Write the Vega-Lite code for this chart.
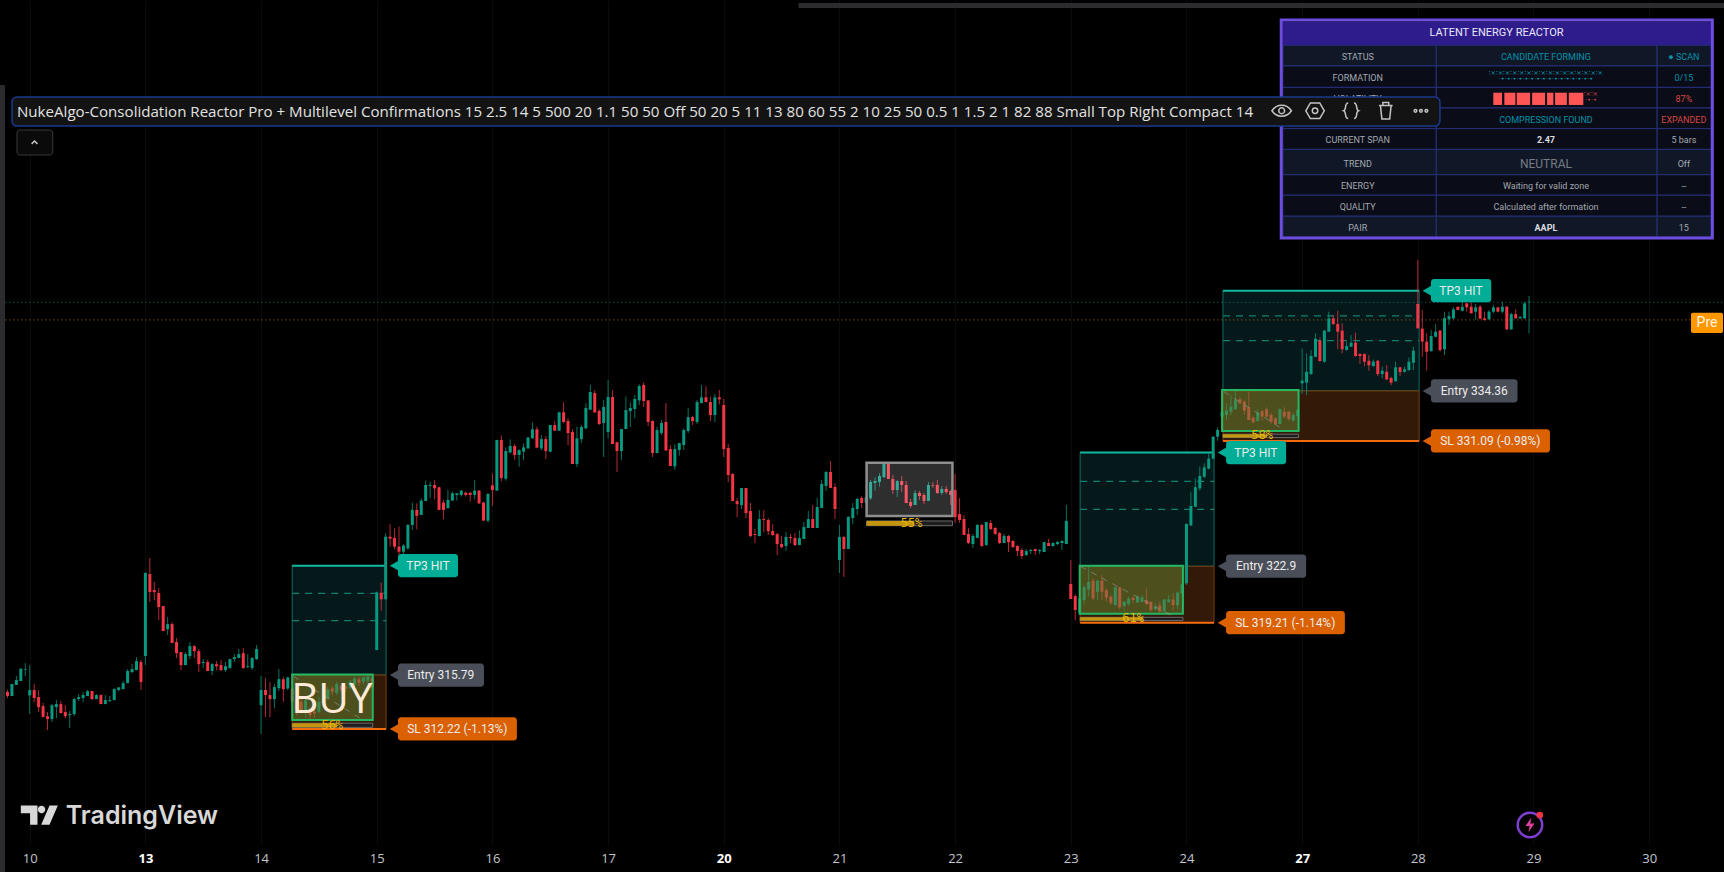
{"$schema":"https://vega.github.io/schema/vega-lite/v6.json","width":1724,"height":845,"autosize":{"type":"none"},"padding":{"left":0,"top":0,"right":0,"bottom":27},"background":"#000000","view":{"stroke":null},
"datasets":{
"candles":[
{"i":-5,"o":314.68,"h":314.81,"l":314.29,"c":314.42},{"i":-4,"o":314.42,"h":315.2,"l":314.42,"c":315.2},{"i":-3,"o":315.14,"h":315.72,"l":315.14,"c":315.46},{"i":-2,"o":315.4,"h":316.25,"l":315.4,"c":316.2},{"i":-1,"o":316.14,"h":316.57,"l":315.72,"c":316.18},
{"i":0,"o":314.46,"h":316.44,"l":313.24,"c":314.81},{"i":1,"o":314.81,"h":315.2,"l":314.02,"c":314.29},{"i":2,"o":314.35,"h":314.81,"l":313.37,"c":313.69},{"i":3,"o":313.76,"h":313.96,"l":312.99,"c":313.06},{"i":4,"o":313.1,"h":313.37,"l":312.19,"c":312.91},{"i":5,"o":312.91,"h":313.89,"l":312.71,"c":313.82},{"i":6,"o":313.69,"h":314.15,"l":312.97,"c":313.89},{"i":7,"o":313.89,"h":314.09,"l":313.28,"c":313.3},{"i":8,"o":313.37,"h":313.82,"l":312.97,"c":313.1},{"i":9,"o":313.17,"h":313.43,"l":312.32,"c":313.24},
{"i":10,"o":313.24,"h":314.29,"l":313.1,"c":314.22},{"i":11,"o":314.22,"h":314.54,"l":314.09,"c":314.35},{"i":12,"o":314.29,"h":314.68,"l":314.02,"c":314.48},{"i":13,"o":314.42,"h":314.81,"l":314.42,"c":314.74},{"i":14,"o":314.74,"h":314.74,"l":314.15,"c":314.22},{"i":15,"o":314.22,"h":314.54,"l":314.22,"c":314.48},{"i":16,"o":314.48,"h":314.54,"l":313.89,"c":313.89},{"i":17,"o":313.89,"h":314.48,"l":313.89,"c":314.15},{"i":18,"o":314.09,"h":314.42,"l":314.02,"c":314.15},{"i":19,"o":314.15,"h":314.93,"l":314.15,"c":314.87},
{"i":20,"o":314.81,"h":315,"l":314.74,"c":314.98},{"i":21,"o":314.87,"h":315.4,"l":314.87,"c":315.26},{"i":22,"o":315.26,"h":316.18,"l":315.26,"c":316.05},{"i":23,"o":315.98,"h":316.5,"l":315.92,"c":316.18},{"i":24,"o":316.11,"h":316.96,"l":316.11,"c":316.7},{"i":25,"o":316.64,"h":316.77,"l":314.81,"c":315.33},{"i":26,"o":317.03,"h":322.52,"l":316.44,"c":322.46},{"i":27,"o":322.39,"h":323.44,"l":320.56,"c":321.21},{"i":28,"o":321.34,"h":321.87,"l":320.69,"c":321.21},{"i":29,"o":321.15,"h":321.47,"l":319.38,"c":320.23},
{"i":30,"o":320.3,"h":320.3,"l":318.66,"c":318.66},{"i":31,"o":318.79,"h":319.58,"l":318.4,"c":319.12},{"i":32,"o":319.12,"h":319.25,"l":317.88,"c":317.88},{"i":33,"o":317.94,"h":318.2,"l":316.9,"c":317.22},{"i":34,"o":317.29,"h":317.29,"l":316.11,"c":316.44},{"i":35,"o":316.44,"h":317.29,"l":316.44,"c":317.16},{"i":36,"o":317.03,"h":317.94,"l":316.83,"c":317.68},{"i":37,"o":317.68,"h":317.75,"l":316.9,"c":317.35},{"i":38,"o":317.35,"h":317.49,"l":315.98,"c":316.5},{"i":39,"o":316.57,"h":316.83,"l":316.25,"c":316.64},
{"i":40,"o":316.64,"h":316.77,"l":316.05,"c":316.05},{"i":41,"o":316.05,"h":316.57,"l":315.78,"c":316.5},{"i":42,"o":316.5,"h":316.7,"l":316.11,"c":316.37},{"i":43,"o":316.44,"h":316.77,"l":316.05,"c":316.11},{"i":44,"o":316.11,"h":316.64,"l":315.98,"c":316.37},{"i":45,"o":316.25,"h":316.83,"l":316.2,"c":316.83},{"i":46,"o":316.83,"h":317.16,"l":316.64,"c":316.96},{"i":47,"o":316.9,"h":317.49,"l":316.9,"c":317.16},{"i":48,"o":317.22,"h":317.55,"l":316.18,"c":316.25},{"i":49,"o":316.31,"h":317.16,"l":316.25,"c":316.37},
{"i":50,"o":316.25,"h":316.96,"l":316.11,"c":316.9},{"i":51,"o":316.83,"h":317.75,"l":316.77,"c":317.49},{"i":52,"o":313.82,"h":315.72,"l":311.93,"c":314.81},{"i":53,"o":314.81,"h":315.59,"l":313.04,"c":314.48},{"i":54,"o":314.48,"h":315.33,"l":313.04,"c":314.22},{"i":55,"o":314.22,"h":315.2,"l":313.63,"c":315},{"i":56,"o":314.93,"h":316.18,"l":314.74,"c":315.52},{"i":57,"o":315.51,"h":315.68,"l":314.04,"c":314.87},{"i":58,"o":314.91,"h":315.68,"l":314.81,"c":315.63},{"i":59,"o":314.91,"h":315.46,"l":313.72,"c":314.04},
{"i":60,"o":314.15,"h":314.59,"l":313.17,"c":313.5},{"i":61,"o":314.04,"h":314.37,"l":313.28,"c":313.5},{"i":62,"o":313.39,"h":314.26,"l":313.02,"c":314.15},{"i":63,"o":313.5,"h":313.72,"l":312.89,"c":313.17},{"i":64,"o":313.39,"h":313.61,"l":313.02,"c":313.28},{"i":65,"o":313.39,"h":314.37,"l":313.28,"c":314.04},{"i":66,"o":314.04,"h":314.59,"l":313.89,"c":314.37},{"i":67,"o":314.26,"h":315.02,"l":314.15,"c":314.85},{"i":68,"o":314.91,"h":315.07,"l":314.48,"c":314.7},{"i":69,"o":314.63,"h":315.35,"l":314.48,"c":315.2},
{"i":70,"o":315.07,"h":315.24,"l":314.59,"c":314.81},{"i":71,"o":315.02,"h":315.2,"l":314.7,"c":314.91},{"i":72,"o":314.98,"h":315.46,"l":314.85,"c":315.35},{"i":73,"o":315.13,"h":315.68,"l":315.02,"c":315.57},{"i":74,"o":315.51,"h":315.68,"l":315.07,"c":315.29},{"i":75,"o":315.35,"h":315.68,"l":315.2,"c":315.63},{"i":76,"o":315.42,"h":315.77,"l":315.24,"c":315.68},{"i":77,"o":315.57,"h":315.68,"l":314.91,"c":314.98},{"i":78,"o":317.42,"h":321.24,"l":317.42,"c":321.19},{"i":79,"o":321.17,"h":321.83,"l":319.99,"c":320.74},
{"i":80,"o":320.74,"h":325.05,"l":320.74,"c":324.83},{"i":81,"o":324.83,"h":325.66,"l":324.18,"c":324.7},{"i":82,"o":324.75,"h":325.38,"l":324.01,"c":324.18},{"i":83,"o":324.18,"h":325.49,"l":323.64,"c":323.85},{"i":84,"o":323.85,"h":324.35,"l":323.7,"c":324.25},{"i":85,"o":324.07,"h":325.66,"l":323.96,"c":325.6},{"i":86,"o":325.6,"h":327.06,"l":325.27,"c":326.58},{"i":87,"o":326.58,"h":327.01,"l":325.31,"c":326.19},{"i":88,"o":326.25,"h":327.34,"l":326.25,"c":327.19},{"i":89,"o":327.17,"h":328.5,"l":327.17,"c":328.21},
{"i":90,"o":328.15,"h":328.43,"l":327.34,"c":328.21},{"i":91,"o":328.21,"h":328.54,"l":327.28,"c":327.99},{"i":92,"o":328.06,"h":328.1,"l":326.58,"c":326.58},{"i":93,"o":327.06,"h":327.23,"l":325.97,"c":326.58},{"i":94,"o":326.69,"h":327.89,"l":326.69,"c":327.23},{"i":95,"o":327.19,"h":327.78,"l":327.19,"c":327.67},{"i":96,"o":327.56,"h":327.67,"l":327.19,"c":327.67},{"i":97,"o":327.56,"h":327.89,"l":327.45,"c":327.84},{"i":98,"o":327.71,"h":327.78,"l":327.45,"c":327.56},{"i":99,"o":327.71,"h":327.71,"l":327.12,"c":327.56},
{"i":100,"o":327.56,"h":328.54,"l":327.28,"c":327.84},{"i":101,"o":327.84,"h":327.89,"l":326.97,"c":327.01},{"i":102,"o":327.06,"h":327.12,"l":325.88,"c":325.88},{"i":103,"o":325.88,"h":327.67,"l":325.75,"c":327.62},{"i":104,"o":328.19,"h":328.97,"l":326.86,"c":327.88},{"i":105,"o":327.84,"h":331.15,"l":327.84,"c":331.15},{"i":106,"o":331.15,"h":331.45,"l":328.44,"c":328.66},{"i":107,"o":328.62,"h":330.67,"l":328.49,"c":330.43},{"i":108,"o":330.34,"h":331.19,"l":330.28,"c":330.76},{"i":109,"o":330.76,"h":330.89,"l":329.86,"c":330.17},
{"i":110,"o":330.17,"h":330.54,"l":329.4,"c":330.49},{"i":111,"o":330.39,"h":330.93,"l":329.84,"c":330.67},{"i":112,"o":330.6,"h":331.32,"l":330.6,"c":331.32},{"i":113,"o":331.26,"h":332.3,"l":331.26,"c":331.85},{"i":114,"o":331.85,"h":332.02,"l":330.65,"c":330.65},{"i":115,"o":330.6,"h":331.48,"l":330.47,"c":331.21},{"i":116,"o":331.21,"h":331.41,"l":329.91,"c":330.43},{"i":117,"o":330.39,"h":332.13,"l":330.34,"c":332.13},{"i":118,"o":332.13,"h":332.39,"l":331.74,"c":331.76},{"i":119,"o":331.76,"h":333,"l":331.74,"c":332.96},
{"i":120,"o":332.96,"h":333.61,"l":332.24,"c":332.33},{"i":121,"o":332.39,"h":332.57,"l":330.82,"c":331.61},{"i":122,"o":331.67,"h":331.85,"l":329.58,"c":329.58},{"i":123,"o":329.58,"h":332.02,"l":329.38,"c":331.26},{"i":124,"o":331.21,"h":332.13,"l":330.95,"c":332},{"i":125,"o":331.91,"h":333.55,"l":331.87,"c":333.24},{"i":126,"o":333.13,"h":334.75,"l":333.11,"c":334.29},{"i":127,"o":334.22,"h":334.4,"l":332.92,"c":332.96},{"i":128,"o":333.05,"h":333.15,"l":332.13,"c":332.2},{"i":129,"o":332.26,"h":333.77,"l":330.04,"c":333.31},
{"i":130,"o":331.67,"h":335.07,"l":331.26,"c":333.96},{"i":131,"o":333.96,"h":334.42,"l":330.89,"c":330.89},{"i":132,"o":331,"h":331.04,"l":329.06,"c":330.43},{"i":133,"o":330.43,"h":331.87,"l":329.84,"c":331.87},{"i":134,"o":331.87,"h":334,"l":331.87,"c":333.11},{"i":135,"o":333.05,"h":333.61,"l":332,"c":333.24},{"i":136,"o":333.18,"h":334.09,"l":332.57,"c":333.83},{"i":137,"o":333.74,"h":334.79,"l":333.44,"c":334.68},{"i":138,"o":334.75,"h":334.92,"l":333.31,"c":333.7},{"i":139,"o":333.74,"h":333.74,"l":332.07,"c":332.33},
{"i":140,"o":332.39,"h":332.44,"l":330.04,"c":330.3},{"i":141,"o":330.3,"h":332.02,"l":330.3,"c":331.8},{"i":142,"o":331.61,"h":332.46,"l":331.48,"c":332.26},{"i":143,"o":332.33,"h":333.57,"l":330.43,"c":330.47},{"i":144,"o":330.56,"h":330.82,"l":329.45,"c":329.45},{"i":145,"o":329.43,"h":330.87,"l":329.19,"c":330.56},{"i":146,"o":330.5,"h":330.95,"l":330.13,"c":330.95},{"i":147,"o":330.82,"h":331.91,"l":330.5,"c":331.8},{"i":148,"o":331.74,"h":333.24,"l":331.61,"c":332.65},{"i":149,"o":332.65,"h":332.74,"l":332.13,"c":332.39},
{"i":150,"o":332.33,"h":333.77,"l":332.2,"c":333.63},{"i":151,"o":333.57,"h":334.75,"l":333.55,"c":333.94},{"i":152,"o":333.94,"h":334.66,"l":333.61,"c":333.63},{"i":153,"o":333.63,"h":334,"l":332.39,"c":332.78},{"i":154,"o":332.78,"h":334.16,"l":332.33,"c":333.94},{"i":155,"o":333.94,"h":334.42,"l":333.48,"c":333.81},{"i":156,"o":333.44,"h":333.83,"l":330.04,"c":330.56},{"i":157,"o":330.63,"h":330.89,"l":328.4,"c":328.86},{"i":158,"o":328.93,"h":328.99,"l":327.16,"c":327.16},{"i":159,"o":327.16,"h":327.36,"l":326.11,"c":326.96},
{"i":160,"o":326.9,"h":328.01,"l":326.64,"c":328.01},{"i":161,"o":328.01,"h":328.01,"l":326.05,"c":326.37},{"i":162,"o":326.51,"h":327.03,"l":324.81,"c":324.87},{"i":163,"o":325,"h":325.33,"l":324.41,"c":324.94},{"i":164,"o":324.87,"h":326.57,"l":324.87,"c":325.98},{"i":165,"o":325.98,"h":326.57,"l":325.13,"c":325.92},{"i":166,"o":325.92,"h":326.05,"l":324.94,"c":325.2},{"i":167,"o":325.2,"h":325.66,"l":324.87,"c":324.94},{"i":168,"o":325,"h":325.07,"l":323.63,"c":324.35},{"i":169,"o":324.35,"h":324.87,"l":324.07,"c":324.15},
{"i":170,"o":324.22,"h":325.13,"l":323.89,"c":324.81},{"i":171,"o":324.81,"h":325,"l":324.43,"c":324.74},{"i":172,"o":324.74,"h":325.07,"l":324.22,"c":324.28},{"i":173,"o":324.28,"h":325.26,"l":324.28,"c":324.74},{"i":174,"o":324.68,"h":325.79,"l":324.68,"c":325.46},{"i":175,"o":325.4,"h":326.51,"l":325.4,"c":325.98},{"i":176,"o":325.98,"h":326.9,"l":325.4,"c":325.4},{"i":177,"o":325.4,"h":327.36,"l":325.4,"c":326.77},{"i":178,"o":326.71,"h":328.54,"l":326.71,"c":328.28},{"i":179,"o":328.15,"h":329.13,"l":327.82,"c":329.06},
{"i":180,"o":329.06,"h":329.78,"l":328.02,"c":328.02},{"i":181,"o":328.08,"h":328.32,"l":325.99,"c":326.64},{"i":182,"o":323.31,"h":325.6,"l":322.46,"c":324.81},{"i":183,"o":324.81,"h":324.88,"l":322.2,"c":324.03},{"i":184,"o":324.03,"h":326.18,"l":324.03,"c":326.12},{"i":185,"o":326.05,"h":327.03,"l":325.66,"c":326.71},{"i":186,"o":326.64,"h":327.36,"l":326.25,"c":327.3},{"i":187,"o":327.36,"h":327.49,"l":326.71,"c":327.03},{"i":188,"o":327.06,"h":327.67,"l":327.06,"c":327.4},{"i":189,"o":327.34,"h":328.54,"l":327.23,"c":328.41},
{"i":190,"o":328.34,"h":328.71,"l":327.84,"c":328.47},{"i":191,"o":328.41,"h":328.97,"l":328.1,"c":328.8},{"i":192,"o":328.71,"h":329.58,"l":328.71,"c":329.58},{"i":193,"o":329.58,"h":329.58,"l":328.6,"c":328.6},{"i":194,"o":328.6,"h":328.87,"l":327.62,"c":327.88},{"i":195,"o":327.88,"h":328.54,"l":327.43,"c":328.47},{"i":196,"o":328.47,"h":328.8,"l":327.75,"c":328.21},{"i":197,"o":328.21,"h":328.47,"l":327.03,"c":327.03},{"i":198,"o":327.1,"h":327.3,"l":326.71,"c":326.84},{"i":199,"o":326.9,"h":327.88,"l":326.9,"c":327.69},
{"i":200,"o":327.69,"h":327.82,"l":327.23,"c":327.49},{"i":201,"o":327.56,"h":327.69,"l":326.97,"c":327.17},{"i":202,"o":327.17,"h":328.41,"l":327.17,"c":328.21},{"i":203,"o":328.21,"h":328.41,"l":328.02,"c":328.17},{"i":204,"o":328.21,"h":328.54,"l":327.62,"c":327.69},{"i":205,"o":327.69,"h":328.15,"l":327.56,"c":327.95},{"i":206,"o":327.95,"h":328.15,"l":327.62,"c":327.75},{"i":207,"o":327.82,"h":327.88,"l":326.9,"c":327.56},{"i":208,"o":327.88,"h":328.93,"l":325.73,"c":326.12},{"i":209,"o":326.31,"h":327.36,"l":325.73,"c":325.92},
{"i":210,"o":325.99,"h":326.25,"l":324.94,"c":324.94},{"i":211,"o":325.01,"h":325.4,"l":324.35,"c":324.42},{"i":212,"o":324.35,"h":325.01,"l":324.09,"c":324.88},{"i":213,"o":324.75,"h":325.66,"l":324.75,"c":325.6},{"i":214,"o":325.6,"h":325.66,"l":324.16,"c":324.22},{"i":215,"o":324.29,"h":325.79,"l":324.22,"c":325.79},{"i":216,"o":325.73,"h":325.92,"l":325.27,"c":325.33},{"i":217,"o":325.4,"h":325.47,"l":324.94,"c":325.01},{"i":218,"o":325.07,"h":325.14,"l":324.35,"c":324.42},{"i":219,"o":324.42,"h":325.01,"l":324.42,"c":324.88},
{"i":220,"o":324.88,"h":324.94,"l":323.83,"c":324.48},{"i":221,"o":324.55,"h":324.61,"l":324.09,"c":324.16},{"i":222,"o":324.22,"h":324.29,"l":323.57,"c":323.89},{"i":223,"o":323.96,"h":324.09,"l":323.37,"c":323.57},{"i":224,"o":323.63,"h":324.03,"l":323.57,"c":323.89},{"i":225,"o":323.89,"h":324.03,"l":323.7,"c":323.96},{"i":226,"o":324.03,"h":324.03,"l":323.63,"c":323.89},{"i":227,"o":323.89,"h":324.03,"l":323.7,"c":323.96},{"i":228,"o":323.83,"h":324.48,"l":323.83,"c":324.48},{"i":229,"o":324.42,"h":324.68,"l":324.22,"c":324.22},
{"i":230,"o":324.22,"h":324.48,"l":324.16,"c":324.42},{"i":231,"o":324.35,"h":324.55,"l":324.29,"c":324.48},{"i":232,"o":324.42,"h":324.61,"l":323.96,"c":324.55},{"i":233,"o":324.35,"h":326.9,"l":324.35,"c":325.86},{"i":234,"o":321.74,"h":323.31,"l":320.76,"c":320.76},{"i":235,"o":320.95,"h":321.08,"l":319.38,"c":320.04},{"i":236,"o":319.86,"h":321.34,"l":319.71,"c":320.8},{"i":237,"o":320.69,"h":321.67,"l":320.47,"c":321.52},{"i":238,"o":321.39,"h":322.87,"l":320.91,"c":321.87},{"i":239,"o":321.95,"h":322.1,"l":320.69,"c":320.8},
{"i":240,"o":321.23,"h":322,"l":320.69,"c":321.95},{"i":241,"o":321.95,"h":322.32,"l":320.69,"c":321.23},{"i":242,"o":321.34,"h":321.45,"l":320.58,"c":320.84},{"i":243,"o":320.91,"h":321.01,"l":320.36,"c":320.51},{"i":244,"o":320.36,"h":321.56,"l":320.3,"c":321.52},{"i":245,"o":321.52,"h":321.56,"l":320.08,"c":320.21},{"i":246,"o":320.3,"h":320.58,"l":319.99,"c":320.58},{"i":247,"o":320.43,"h":320.91,"l":320.3,"c":320.78},{"i":248,"o":320.84,"h":320.91,"l":320.47,"c":320.69},{"i":249,"o":320.54,"h":321.01,"l":320.47,"c":320.91},
{"i":250,"o":320.58,"h":321.01,"l":320.51,"c":320.86},{"i":251,"o":320.69,"h":321.45,"l":320.36,"c":320.43},{"i":252,"o":320.58,"h":320.58,"l":319.93,"c":320.03},{"i":253,"o":320.08,"h":320.47,"l":320.03,"c":320.25},{"i":254,"o":320.34,"h":320.58,"l":319.82,"c":319.93},{"i":255,"o":319.95,"h":320.73,"l":319.93,"c":320.73},{"i":256,"o":320.56,"h":321.01,"l":320.51,"c":320.73},{"i":257,"o":320.73,"h":321.12,"l":320.03,"c":320.36},{"i":258,"o":320.34,"h":321.23,"l":320.08,"c":321.17},{"i":259,"o":321.12,"h":321.78,"l":321.08,"c":321.71},
{"i":260,"o":321.78,"h":325.7,"l":321.67,"c":325.66},{"i":261,"o":325.57,"h":327.77,"l":325.53,"c":326.84},{"i":262,"o":326.79,"h":328.64,"l":326.75,"c":328.06},{"i":263,"o":327.99,"h":329.41,"l":327.84,"c":328.8},{"i":264,"o":328.75,"h":329.63,"l":328.64,"c":329.36},{"i":265,"o":329.28,"h":330.28,"l":329.23,"c":329.93},{"i":266,"o":329.93,"h":331.37,"l":329.89,"c":331.37},{"i":267,"o":331.37,"h":331.98,"l":331.11,"c":331.81},{"i":268,"o":332.68,"h":333.16,"l":332.57,"c":333},{"i":269,"o":332.79,"h":333.55,"l":332.46,"c":333.07},
{"i":270,"o":333,"h":334.1,"l":332.79,"c":333.33},{"i":271,"o":333.16,"h":334.38,"l":333.11,"c":333.77},{"i":272,"o":333.81,"h":333.94,"l":333.51,"c":333.55},{"i":273,"o":333.66,"h":333.77,"l":332.79,"c":333.07},{"i":274,"o":333.29,"h":334.31,"l":332.46,"c":332.46},{"i":275,"o":332.61,"h":332.68,"l":332.24,"c":332.31},{"i":276,"o":332.39,"h":333.16,"l":332.39,"c":332.94},{"i":277,"o":333.03,"h":333.11,"l":332.42,"c":332.68},{"i":278,"o":333.16,"h":333.29,"l":332.63,"c":332.68},{"i":279,"o":332.79,"h":332.9,"l":332.2,"c":332.35},
{"i":280,"o":332.57,"h":332.63,"l":332.13,"c":332.2},{"i":281,"o":332.2,"h":333.22,"l":332.2,"c":333.16},{"i":282,"o":333,"h":333.29,"l":332.57,"c":332.68},{"i":283,"o":333,"h":333.07,"l":332.42,"c":332.53},{"i":284,"o":332.42,"h":332.9,"l":332.35,"c":332.79},{"i":285,"o":332.72,"h":333.16,"l":332.63,"c":333.11},{"i":286,"o":334.85,"h":337.14,"l":334.16,"c":335.03},{"i":287,"o":334.9,"h":336.81,"l":334.09,"c":335.61},{"i":288,"o":335.46,"h":337.03,"l":335.4,"c":336.64},{"i":289,"o":336.59,"h":338.12,"l":336.59,"c":337.77},
{"i":290,"o":337.64,"h":337.86,"l":336.27,"c":336.31},{"i":291,"o":336.27,"h":338.34,"l":336.2,"c":338.3},{"i":292,"o":338.23,"h":339.54,"l":338.23,"c":339.1},{"i":293,"o":339.1,"h":339.32,"l":338.67,"c":338.73},{"i":294,"o":338.73,"h":339.6,"l":337.1,"c":338.23},{"i":295,"o":338.3,"h":338.78,"l":336.81,"c":337.08},{"i":296,"o":337.03,"h":337.58,"l":336.99,"c":337.29},{"i":297,"o":337.25,"h":338.01,"l":337.25,"c":337.51},{"i":298,"o":337.51,"h":338.17,"l":336.59,"c":336.64},{"i":299,"o":336.77,"h":336.81,"l":336.12,"c":336.64},
{"i":300,"o":336.77,"h":336.81,"l":335.98,"c":336.27},{"i":301,"o":336.33,"h":336.7,"l":335.68,"c":336.03},{"i":302,"o":335.98,"h":336.42,"l":335.94,"c":336.27},{"i":303,"o":336.33,"h":336.38,"l":335.33,"c":335.46},{"i":304,"o":335.46,"h":335.94,"l":335.18,"c":335.68},{"i":305,"o":335.61,"h":336.05,"l":335.07,"c":335.11},{"i":306,"o":335.2,"h":335.29,"l":334.74,"c":334.9},{"i":307,"o":335,"h":336.27,"l":334.96,"c":335.9},{"i":308,"o":335.9,"h":335.94,"l":335.33,"c":335.59},{"i":309,"o":335.61,"h":335.94,"l":335.55,"c":335.77},
{"i":310,"o":335.72,"h":336.55,"l":335.68,"c":336.27},{"i":311,"o":336.2,"h":337.25,"l":335.72,"c":336.99},{"i":312,"o":340.04,"h":342.92,"l":338.43,"c":338.45},{"i":313,"o":338.43,"h":339.65,"l":336.59,"c":337.58},{"i":314,"o":337.58,"h":338.12,"l":335.68,"c":336.92},{"i":315,"o":336.96,"h":338.34,"l":336.92,"c":337.95},{"i":316,"o":337.9,"h":338.73,"l":337.86,"c":338.23},{"i":317,"o":338.3,"h":338.34,"l":336.92,"c":337.03},{"i":318,"o":337.08,"h":339.54,"l":336.7,"c":339.12},{"i":319,"o":339.04,"h":339.54,"l":338.67,"c":339.25},
{"i":320,"o":339.1,"h":339.86,"l":339.04,"c":339.69},{"i":321,"o":339.86,"h":339.86,"l":339.65,"c":339.65},{"i":322,"o":339.6,"h":340.19,"l":339.54,"c":339.86},{"i":323,"o":340.08,"h":340.13,"l":339.54,"c":339.82},{"i":324,"o":339.86,"h":340.19,"l":339.43,"c":339.43},{"i":325,"o":339.54,"h":340.04,"l":339,"c":339.82},{"i":326,"o":339.86,"h":339.97,"l":339.04,"c":339.08},{"i":327,"o":339.1,"h":339.54,"l":338.95,"c":339},{"i":328,"o":339.04,"h":339.65,"l":339,"c":339.54},{"i":329,"o":339.54,"h":339.97,"l":339.43,"c":339.82},
{"i":330,"o":339.82,"h":339.86,"l":339.5,"c":339.54},{"i":331,"o":339.54,"h":340.19,"l":339.43,"c":339.86},{"i":332,"o":339.86,"h":339.91,"l":338.34,"c":338.38},{"i":333,"o":338.38,"h":339.47,"l":338.34,"c":339.38},{"i":334,"o":339.38,"h":339.69,"l":339.1,"c":339.1},{"i":335,"o":339.1,"h":339.21,"l":339.1,"c":339.21},{"i":336,"o":339.1,"h":340.19,"l":339.1,"c":340.08},{"i":337,"o":340.15,"h":340.56,"l":338.12,"c":340.19}
],
"rects":[
{"k":"ui","i":-6.68,"i2":-5.56,"p":354.35,"p2":302.91},{"k":"ui","i":172.8,"i2":381.08,"p":359.71,"p2":359.39},
{"k":"tp","i":59,"i2":80.1,"p":322.94,"p2":315.79},{"k":"tp","i":236.1,"i2":266.2,"p":330.33,"p2":322.9},{"k":"tp","i":268.2,"i2":312.3,"p":340.91,"p2":334.36},
{"k":"sl","i":59,"i2":80.1,"p":315.79,"p2":312.27},{"k":"sl","i":236.1,"i2":266.2,"p":322.9,"p2":319.21},{"k":"sl","i":268.2,"i2":312.3,"p":334.36,"p2":331.09},
{"k":"con","i":59,"i2":77.1,"p":315.82,"p2":312.85},{"k":"con","i":236,"i2":259.2,"p":322.94,"p2":319.8},{"k":"con","i":268,"i2":285.2,"p":334.42,"p2":331.74},
{"k":"gray","i":188.1,"i2":207.4,"p":329.67,"p2":326.19},
{"k":"track","i":59,"i2":77.1,"p":312.64,"p2":312.37},{"k":"track","i":188.1,"i2":207.4,"p":325.86,"p2":325.55},{"k":"track","i":236.1,"i2":259.2,"p":319.56,"p2":319.35},{"k":"track","i":268.2,"i2":285.2,"p":331.53,"p2":331.31},
{"k":"prog","i":59,"i2":69.1,"p":312.64,"p2":312.37},{"k":"prog","i":188.1,"i2":198.7,"p":325.86,"p2":325.55},{"k":"prog","i":236.1,"i2":250.2,"p":319.56,"p2":319.35},{"k":"prog","i":268.2,"i2":278.1,"p":331.53,"p2":331.31},
{"k":"ptp","i":82.77,"i2":96.27,"p":323.7,"p2":322.18},{"k":"ptp","i":268.9,"i2":282.4,"p":331.09,"p2":329.57},{"k":"ptp","i":314.95,"i2":328.5,"p":341.67,"p2":340.15},
{"k":"pen","i":82.77,"i2":102.1,"p":316.55,"p2":315.03},{"k":"pen","i":268.9,"i2":286.9,"p":323.66,"p2":322.14},{"k":"pen","i":314.95,"i2":334.4,"p":335.12,"p2":333.6},
{"k":"psl","i":82.77,"i2":109.5,"p":313.03,"p2":311.51},{"k":"psl","i":268.9,"i2":295.6,"p":319.97,"p2":318.45},{"k":"psl","i":314.95,"i2":341.7,"p":331.85,"p2":330.33},
{"k":"pre","i":373.4,"i2":380.6,"p":339.47,"p2":338.15},
{"k":"ttl","i":281.67,"i2":377.94,"p":358.47,"p2":356.95},
{"k":"cl","i":281.67,"i2":316.15,"p":356.95,"p2":355.6},{"k":"cl","i":316.15,"i2":365.79,"p":356.95,"p2":355.6},{"k":"cl","i":365.79,"i2":377.94,"p":356.95,"p2":355.6},
{"k":"cd","i":281.67,"i2":316.15,"p":355.6,"p2":354.2},{"k":"cd","i":316.15,"i2":365.79,"p":355.6,"p2":354.2},{"k":"cd","i":365.79,"i2":377.94,"p":355.6,"p2":354.2},
{"k":"cd","i":281.67,"i2":316.15,"p":354.2,"p2":352.85},{"k":"cd","i":316.15,"i2":365.79,"p":354.2,"p2":352.85},{"k":"cd","i":365.79,"i2":377.94,"p":354.2,"p2":352.85},
{"k":"cd","i":281.67,"i2":316.15,"p":352.85,"p2":351.5},{"k":"cd","i":316.15,"i2":365.79,"p":352.85,"p2":351.5},{"k":"cd","i":365.79,"i2":377.94,"p":352.85,"p2":351.5},
{"k":"cd","i":281.67,"i2":316.15,"p":351.5,"p2":350.15},{"k":"cd","i":316.15,"i2":365.79,"p":351.5,"p2":350.15},{"k":"cd","i":365.79,"i2":377.94,"p":351.5,"p2":350.15},
{"k":"cl","i":281.67,"i2":316.15,"p":350.15,"p2":348.49},{"k":"cl","i":316.15,"i2":365.79,"p":350.15,"p2":348.49},{"k":"cl","i":365.79,"i2":377.94,"p":350.15,"p2":348.49},
{"k":"cd","i":281.67,"i2":316.15,"p":348.49,"p2":347.15},{"k":"cd","i":316.15,"i2":365.79,"p":348.49,"p2":347.15},{"k":"cd","i":365.79,"i2":377.94,"p":348.49,"p2":347.15},
{"k":"cd","i":281.67,"i2":316.15,"p":347.15,"p2":345.79},{"k":"cd","i":316.15,"i2":365.79,"p":347.15,"p2":345.79},{"k":"cd","i":365.79,"i2":377.94,"p":347.15,"p2":345.79},
{"k":"cl","i":281.67,"i2":316.15,"p":345.79,"p2":344.4},{"k":"cl","i":316.15,"i2":365.79,"p":345.79,"p2":344.4},{"k":"cl","i":365.79,"i2":377.94,"p":345.79,"p2":344.4},
{"k":"outer","i":281.3,"i2":378.2,"p":358.6,"p2":344.36},
{"k":"vol","i":328.97,"i2":330.93,"p":353.85,"p2":353.05},{"k":"vol","i":331.45,"i2":333.93,"p":353.85,"p2":353.05},{"k":"vol","i":334.24,"i2":337.24,"p":353.85,"p2":353.05},{"k":"vol","i":337.69,"i2":340.6,"p":353.85,"p2":353.05},{"k":"vol","i":341.05,"i2":342.47,"p":353.85,"p2":353.05},{"k":"vol","i":342.85,"i2":345.5,"p":353.85,"p2":353.05},{"k":"vol","i":345.93,"i2":349.2,"p":353.85,"p2":353.05},
{"k":"tool","i":-3.98,"i2":316.97,"p":353.57,"p2":351.67},
{"k":"btn","i":-2.86,"i2":5.17,"p":351.41,"p2":349.78}
],
"lines":[
{"k":"hteal","i":-5.5,"i2":381.08,"p":340.15},{"k":"horange","i":-5.5,"i2":381.08,"p":339},
{"k":"top","i":59,"i2":80.1,"p":322.94},{"k":"top","i":236.1,"i2":266.2,"p":330.33},{"k":"top","i":268.2,"i2":312.3,"p":340.91},
{"k":"bot","i":59,"i2":80.1,"p":312.27},{"k":"bot","i":236.1,"i2":266.2,"p":319.21},{"k":"bot","i":268.2,"i2":312.3,"p":331.09},
{"k":"dash","i":59,"i2":80.1,"p":321.13},{"k":"dash","i":59,"i2":80.1,"p":319.35},{"k":"dash","i":236.1,"i2":266.2,"p":328.45},{"k":"dash","i":236.1,"i2":266.2,"p":326.62},{"k":"dash","i":268.2,"i2":312.3,"p":339.26},{"k":"dash","i":268.2,"i2":312.3,"p":337.64}
],
"diag":[
{"i":59.3,"i2":74.3,"p":315.69,"p2":312.96},{"i":236.2,"i2":256.4,"p":322.88,"p2":319.72},{"i":268.4,"i2":281.9,"p":334.31,"p2":331.81}
],
"tips":[
{"k":"ptp","i":82,"p":322.94},{"k":"ptp","i":268.1,"p":330.33},{"k":"ptp","i":314.15,"p":340.91},
{"k":"pen","i":82,"p":315.79},{"k":"pen","i":268.1,"p":322.9},{"k":"pen","i":314.15,"p":334.36},
{"k":"psl","i":82,"p":312.27},{"k":"psl","i":268.1,"p":319.21},{"k":"psl","i":314.15,"p":331.09}
],
"texts":[
{"k":"lab","i":89.5,"p":322.94,"t":"TP3 HIT"},{"k":"lab","i":92.4,"p":315.79,"t":"Entry 315.79"},{"k":"lab","i":96.1,"p":312.27,"t":"SL 312.22 (-1.13%)"},
{"k":"lab","i":275.6,"p":330.33,"t":"TP3 HIT"},{"k":"lab","i":277.9,"p":322.9,"t":"Entry 322.9"},{"k":"lab","i":282.2,"p":319.21,"t":"SL 319.21 (-1.14%)"},
{"k":"lab","i":321.7,"p":340.91,"t":"TP3 HIT"},{"k":"lab","i":324.7,"p":334.36,"t":"Entry 334.36"},{"k":"lab","i":328.3,"p":331.09,"t":"SL 331.09 (-0.98%)"},
{"k":"pct","i":68,"p":312.55,"t":"56%"},{"k":"pct","i":198.2,"p":325.75,"t":"55%"},{"k":"pct","i":248,"p":319.5,"t":"61%"},{"k":"pct","i":277,"p":331.48,"t":"58%"},
{"k":"buy","i":67.9,"p":314.13,"t":"BUY"},
{"k":"pre","i":377,"p":338.8,"t":"Pre"},
{"k":"ttl","i":329.7,"p":357.73,"t":"LATENT ENERGY REACTOR"},
{"k":"tg","i":298.5,"p":356.27,"t":"STATUS"},{"k":"tg","i":298.5,"p":354.9,"t":"FORMATION"},{"k":"tg","i":298.5,"p":353.53,"t":"VOLATILITY"},{"k":"tg","i":298.5,"p":350.83,"t":"CURRENT SPAN"},{"k":"tg","i":298.5,"p":349.32,"t":"TREND"},{"k":"tg","i":298.5,"p":347.82,"t":"ENERGY"},{"k":"tg","i":298.5,"p":346.47,"t":"QUALITY"},{"k":"tg","i":298.5,"p":345.1,"t":"PAIR"},
{"k":"tg","i":371.8,"p":350.83,"t":"5 bars"},{"k":"tg","i":371.8,"p":349.32,"t":"Off"},{"k":"tg","i":371.8,"p":347.82,"t":"--"},{"k":"tg","i":371.8,"p":346.47,"t":"--"},{"k":"tg","i":371.8,"p":345.1,"t":"15"},
{"k":"tg","i":340.8,"p":347.82,"t":"Waiting for valid zone"},{"k":"tg","i":340.8,"p":346.47,"t":"Calculated after formation"},
{"k":"tc","i":340.8,"p":356.27,"t":"CANDIDATE FORMING"},{"k":"tc","i":371.8,"p":356.27,"t":"● SCAN"},{"k":"tc","i":371.8,"p":354.9,"t":"0/15"},{"k":"tc","i":340.8,"p":352.18,"t":"COMPRESSION FOUND"},
{"k":"tr","i":371.8,"p":353.53,"t":"87%"},{"k":"tr","i":371.8,"p":352.18,"t":"EXPANDED"},
{"k":"tw","i":340.8,"p":350.83,"t":"2.47"},{"k":"tw","i":340.8,"p":345.1,"t":"AAPL"},
{"k":"tn","i":340.8,"p":349.32,"t":"NEUTRAL"},
{"k":"pc","i":340.8,"p":355.12,"t":"∶×∶×∶×∶×∶×∶×∶×∶×∶×∶×∶×∶×∶×∶×∶×∶×"},{"k":"pc","i":340.8,"p":354.72,"t":"·•·•·•·•·•·•·•·•·•·•·•·•·•·•·•·•"},
{"k":"pr","i":350.9,"p":353.77,"t":"∶×∶×"},{"k":"pr","i":350.9,"p":353.38,"t":"·•·•"},
{"k":"tool","i":-2.86,"p":352.59,"t":"NukeAlgo-Consolidation Reactor Pro + Multilevel Confirmations 15 2.5 14 5 500 20 1.1 50 50 Off 50 20 5 11 13 80 60 55 2 10 25 50 0.5 1 1.5 2 1 82 88 Small Top Right Compact 14"},
{"k":"tv","i":8.1,"p":306.58,"t":"TradingView"}
],
"icons":[
{"s":"eye","i":281.4,"p":352.67},{"s":"hex","i":288.9,"p":352.67},{"s":"brace","i":297,"p":352.67},{"s":"trash","i":304.8,"p":352.67},{"s":"dots","i":312.7,"p":352.67},{"s":"chev","i":1.08,"p":350.6}
],
"logo":[{"i":2.16,"p":306.64}],
"badge":[{"i":337.2,"p":305.99}],
"dot":[{"i":339.4,"p":306.64}]
},
"encoding":{
"x":{"field":"i","type":"quantitative","title":null,"scale":{"domain":[-6.68,380.82],"nice":false,"zero":false},"axis":{"values":[0,26,52,78,104,130,156,182,208,234,260,286,312,338,364],"labelExpr":"['10','13','14','15','16','17','20','21','22','23','24','27','28','29','30'][round(datum.value/26)]","domain":false,"ticks":false,"grid":true,"gridColor":"#0b0b0b","labelFont":"Open Sans","labelFontSize":13,"labelPadding":7,"labelFlush":false,"labelOverlap":false,"labelColor":{"condition":{"test":"datum.value==26||datum.value==156||datum.value==286","value":"#ffffff"},"value":"#c4c6cc"},"labelFontWeight":{"condition":{"test":"datum.value==26||datum.value==156||datum.value==286","value":700},"value":400},"title":null}},
"y":{"field":"p","type":"quantitative","title":null,"scale":{"domain":[304.68,359.91],"nice":false,"zero":false},"axis":null}
},
"layer":[
{"data":{"name":"rects"},"transform":[{"filter":"datum.k=='ui'"}],"mark":{"type":"rect","fill":"#2c2c2e"},"encoding":{"x2":{"field":"i2"},"y2":{"field":"p2"}}},
{"data":{"name":"rects"},"transform":[{"filter":"datum.k=='tp'"}],"mark":{"type":"rect","fill":"#05181a","stroke":"#0e6f66","strokeWidth":1},"encoding":{"x2":{"field":"i2"},"y2":{"field":"p2"}}},
{"data":{"name":"rects"},"transform":[{"filter":"datum.k=='sl'"}],"mark":{"type":"rect","fill":"#331a08","stroke":"#7a3f10","strokeWidth":1},"encoding":{"x2":{"field":"i2"},"y2":{"field":"p2"}}},
{"data":{"name":"lines"},"transform":[{"filter":"datum.k=='hteal'"}],"mark":{"type":"rule","stroke":"#0c7a6a","strokeWidth":1,"strokeDash":[1,3]},"encoding":{"x2":{"field":"i2"}}},
{"data":{"name":"lines"},"transform":[{"filter":"datum.k=='horange'"}],"mark":{"type":"rule","stroke":"#a8690f","strokeWidth":1,"strokeDash":[1,3]},"encoding":{"x2":{"field":"i2"}}},
{"data":{"name":"lines"},"transform":[{"filter":"datum.k=='dash'"}],"mark":{"type":"rule","stroke":"#11806f","strokeWidth":1.2,"strokeDash":[7,6]},"encoding":{"x2":{"field":"i2"}}},
{"data":{"name":"lines"},"transform":[{"filter":"datum.k=='top'"}],"mark":{"type":"rule","stroke":"#14b8a0","strokeWidth":2},"encoding":{"x2":{"field":"i2"}}},
{"data":{"name":"lines"},"transform":[{"filter":"datum.k=='bot'"}],"mark":{"type":"rule","stroke":"#f26b0f","strokeWidth":2},"encoding":{"x2":{"field":"i2"}}},
{"data":{"name":"candles"},"mark":{"type":"rule","strokeWidth":1,"opacity":0.75},"encoding":{"y":{"field":"h","type":"quantitative","title":null,"scale":{"domain":[304.68,359.91],"nice":false,"zero":false},"axis":null},"y2":{"field":"l"},"color":{"condition":{"test":"datum.c>=datum.o","value":"#089981"},"value":"#f23645"}}},
{"data":{"name":"candles"},"mark":{"type":"rule","strokeWidth":3},"encoding":{"y":{"field":"o","type":"quantitative","title":null,"scale":{"domain":[304.68,359.91],"nice":false,"zero":false},"axis":null},"y2":{"field":"c"},"color":{"condition":{"test":"datum.c>=datum.o","value":"#089981"},"value":"#f23645"}}},
{"data":{"name":"rects"},"transform":[{"filter":"datum.k=='con'"}],"mark":{"type":"rect","fill":"#668232","fillOpacity":0.52,"stroke":"#25b864","strokeWidth":2},"encoding":{"x2":{"field":"i2"},"y2":{"field":"p2"}}},
{"data":{"name":"rects"},"transform":[{"filter":"datum.k=='gray'"}],"mark":{"type":"rect","fill":"#ffffff","fillOpacity":0.18,"stroke":"#8f8f8f","strokeWidth":2.5},"encoding":{"x2":{"field":"i2"},"y2":{"field":"p2"}}},
{"data":{"name":"diag"},"mark":{"type":"rule","stroke":"#9a9a9a","strokeOpacity":0.6,"strokeWidth":1,"strokeDash":[6,6]},"encoding":{"x2":{"field":"i2"},"y2":{"field":"p2"}}},
{"data":{"name":"rects"},"transform":[{"filter":"datum.k=='track'"}],"mark":{"type":"rect","fill":"#1e1e20","stroke":"#6a6a6a","strokeWidth":1},"encoding":{"x2":{"field":"i2"},"y2":{"field":"p2"}}},
{"data":{"name":"rects"},"transform":[{"filter":"datum.k=='prog'"}],"mark":{"type":"rect","fill":"#c4960f"},"encoding":{"x2":{"field":"i2"},"y2":{"field":"p2"}}},
{"data":{"name":"texts"},"transform":[{"filter":"datum.k=='pct'"}],"mark":{"type":"text","font":"DejaVu Sans Mono","fontSize":12,"color":"#e6b400","align":"center","baseline":"middle"},"encoding":{"text":{"field":"t"}}},
{"data":{"name":"texts"},"transform":[{"filter":"datum.k=='buy'"}],"mark":{"type":"text","font":"Open Sans","fontSize":42,"color":"#fdebd8","align":"center","baseline":"middle"},"encoding":{"text":{"field":"t"}}},
{"data":{"name":"rects"},"transform":[{"filter":"datum.k=='ptp'"}],"mark":{"type":"rect","fill":"#00ad97","cornerRadius":3},"encoding":{"x2":{"field":"i2"},"y2":{"field":"p2"}}},
{"data":{"name":"rects"},"transform":[{"filter":"datum.k=='pen'"}],"mark":{"type":"rect","fill":"#4a4e58","cornerRadius":3},"encoding":{"x2":{"field":"i2"},"y2":{"field":"p2"}}},
{"data":{"name":"rects"},"transform":[{"filter":"datum.k=='psl'"}],"mark":{"type":"rect","fill":"#da6000","cornerRadius":3},"encoding":{"x2":{"field":"i2"},"y2":{"field":"p2"}}},
{"data":{"name":"tips"},"transform":[{"filter":"datum.k=='ptp'"}],"mark":{"type":"point","shape":"triangle-left","size":120,"filled":true,"fill":"#00ad97","opacity":1}},
{"data":{"name":"tips"},"transform":[{"filter":"datum.k=='pen'"}],"mark":{"type":"point","shape":"triangle-left","size":120,"filled":true,"fill":"#4a4e58","opacity":1}},
{"data":{"name":"tips"},"transform":[{"filter":"datum.k=='psl'"}],"mark":{"type":"point","shape":"triangle-left","size":120,"filled":true,"fill":"#da6000","opacity":1}},
{"data":{"name":"texts"},"transform":[{"filter":"datum.k=='lab'"}],"mark":{"type":"text","font":"Roboto","fontSize":12,"color":"#ececec","align":"center","baseline":"middle"},"encoding":{"text":{"field":"t"}}},
{"data":{"name":"rects"},"transform":[{"filter":"datum.k=='pre'"}],"mark":{"type":"rect","fill":"#ff9800","cornerRadius":2},"encoding":{"x2":{"field":"i2"},"y2":{"field":"p2"}}},
{"data":{"name":"texts"},"transform":[{"filter":"datum.k=='pre'"}],"mark":{"type":"text","font":"Roboto","fontSize":14,"color":"#fff4e0","align":"center","baseline":"middle"},"encoding":{"text":{"field":"t"}}},
{"data":{"name":"rects"},"transform":[{"filter":"datum.k=='ttl'"}],"mark":{"type":"rect","fill":"#2f1c8c"},"encoding":{"x2":{"field":"i2"},"y2":{"field":"p2"}}},
{"data":{"name":"rects"},"transform":[{"filter":"datum.k=='cl'"}],"mark":{"type":"rect","fill":"#101827","stroke":"#26307a","strokeWidth":1},"encoding":{"x2":{"field":"i2"},"y2":{"field":"p2"}}},
{"data":{"name":"rects"},"transform":[{"filter":"datum.k=='cd'"}],"mark":{"type":"rect","fill":"#0a0d17","stroke":"#26307a","strokeWidth":1},"encoding":{"x2":{"field":"i2"},"y2":{"field":"p2"}}},
{"data":{"name":"rects"},"transform":[{"filter":"datum.k=='outer'"}],"mark":{"type":"rect","fill":null,"stroke":"#6d4ce0","strokeWidth":3},"encoding":{"x2":{"field":"i2"},"y2":{"field":"p2"}}},
{"data":{"name":"rects"},"transform":[{"filter":"datum.k=='vol'"}],"mark":{"type":"rect","fill":"#ff5555"},"encoding":{"x2":{"field":"i2"},"y2":{"field":"p2"}}},
{"data":{"name":"texts"},"transform":[{"filter":"datum.k=='ttl'"}],"mark":{"type":"text","font":"Roboto","fontSize":11,"color":"#e8e6f8","align":"center","baseline":"middle"},"encoding":{"text":{"field":"t"}}},
{"data":{"name":"texts"},"transform":[{"filter":"datum.k=='tg'"}],"mark":{"type":"text","font":"Roboto","fontSize":9,"dy":1.5,"color":"#a4a8b0","align":"center","baseline":"middle"},"encoding":{"text":{"field":"t"}}},
{"data":{"name":"texts"},"transform":[{"filter":"datum.k=='tc'"}],"mark":{"type":"text","font":"Roboto","fontSize":9,"dy":1.5,"color":"#0391a8","align":"center","baseline":"middle"},"encoding":{"text":{"field":"t"}}},
{"data":{"name":"texts"},"transform":[{"filter":"datum.k=='tr'"}],"mark":{"type":"text","font":"Roboto","fontSize":9,"dy":1.5,"color":"#d94545","align":"center","baseline":"middle"},"encoding":{"text":{"field":"t"}}},
{"data":{"name":"texts"},"transform":[{"filter":"datum.k=='tw'"}],"mark":{"type":"text","font":"Roboto","fontSize":9,"dy":1.5,"fontWeight":700,"color":"#dcdce0","align":"center","baseline":"middle"},"encoding":{"text":{"field":"t"}}},
{"data":{"name":"texts"},"transform":[{"filter":"datum.k=='tn'"}],"mark":{"type":"text","font":"Roboto","fontSize":12,"dy":1.5,"color":"#777b82","align":"center","baseline":"middle"},"encoding":{"text":{"field":"t"}}},
{"data":{"name":"texts"},"transform":[{"filter":"datum.k=='pc'"}],"mark":{"type":"text","font":"DejaVu Sans","fontSize":6.5,"color":"#0a9ab8","align":"center","baseline":"middle"},"encoding":{"text":{"field":"t"}}},
{"data":{"name":"texts"},"transform":[{"filter":"datum.k=='pr'"}],"mark":{"type":"text","font":"DejaVu Sans","fontSize":6.5,"color":"#d94545","align":"center","baseline":"middle"},"encoding":{"text":{"field":"t"}}},
{"data":{"name":"rects"},"transform":[{"filter":"datum.k=='tool'"}],"mark":{"type":"rect","fill":"#131313","stroke":"#1b3a8f","strokeWidth":1.5,"cornerRadius":5},"encoding":{"x2":{"field":"i2"},"y2":{"field":"p2"}}},
{"data":{"name":"texts"},"transform":[{"filter":"datum.k=='tool'"}],"mark":{"type":"text","font":"Open Sans","fontSize":15.1,"color":"#e2e2e2","align":"left","baseline":"middle"},"encoding":{"text":{"field":"t"}}},
{"data":{"name":"rects"},"transform":[{"filter":"datum.k=='btn'"}],"mark":{"type":"rect","fill":"#0a0a0a","stroke":"#3a3a3a","strokeWidth":1,"cornerRadius":3},"encoding":{"x2":{"field":"i2"},"y2":{"field":"p2"}}},
{"data":{"name":"icons"},"mark":{"type":"point","filled":false,"size":380,"color":"#c4c4c4","strokeWidth":1.5,"opacity":1},"encoding":{"shape":{"field":"s","type":"nominal","legend":null,"scale":{"domain":["eye","hex","brace","trash","dots","chev"],"range":["M-1,0 C-0.5,-0.75 0.5,-0.75 1,0 C0.5,0.75 -0.5,0.75 -1,0 Z M0.3,0 A0.3,0.3 0 1 0 -0.3,0 A0.3,0.3 0 1 0 0.3,0 Z","M-0.95,0 L-0.48,-0.8 L0.48,-0.8 L0.95,0 L0.48,0.8 L-0.48,0.8 Z M0.28,0 A0.28,0.28 0 1 0 -0.28,0 A0.28,0.28 0 1 0 0.28,0 Z","M-0.3,-0.8 C-0.7,-0.8 -0.45,-0.1 -0.75,0 C-0.45,0.1 -0.7,0.8 -0.3,0.8 M0.3,-0.8 C0.7,-0.8 0.45,-0.1 0.75,0 C0.45,0.1 0.7,0.8 0.3,0.8","M-0.7,-0.55 L0.7,-0.55 M-0.3,-0.55 L-0.3,-0.85 L0.3,-0.85 L0.3,-0.55 M-0.55,-0.55 L-0.4,0.85 L0.4,0.85 L0.55,-0.55","M-0.7,0 A0.14,0.14 0 1 0 -0.42,0 A0.14,0.14 0 1 0 -0.7,0 Z M-0.14,0 A0.14,0.14 0 1 0 0.14,0 A0.14,0.14 0 1 0 -0.14,0 Z M0.42,0 A0.14,0.14 0 1 0 0.7,0 A0.14,0.14 0 1 0 0.42,0 Z","M-0.3,0.15 L0,-0.15 L0.3,0.15"]}}}},
{"data":{"name":"logo"},"mark":{"type":"point","filled":true,"size":1369,"fill":"#d8d8d8","opacity":1,"shape":"M-1,-0.52 L-0.1,-0.52 L-0.1,0.52 L-0.5,0.52 L-0.5,-0.1 L-1,-0.1 Z M0.32,-0.3 A0.2,0.2 0 1 0 -0.08,-0.3 A0.2,0.2 0 1 0 0.32,-0.3 Z M0.55,-0.52 L1,-0.52 L0.55,0.52 L0.1,0.52 Z"}},
{"data":{"name":"texts"},"transform":[{"filter":"datum.k=='tv'"}],"mark":{"type":"text","font":"Inter","fontSize":25,"fontWeight":600,"color":"#d8d8d8","align":"left","baseline":"middle"},"encoding":{"text":{"field":"t"}}},
{"data":{"name":"badge"},"mark":{"type":"point","shape":"circle","filled":false,"size":600,"stroke":"#7c3fd0","strokeWidth":2.5,"opacity":1}},
{"data":{"name":"badge"},"mark":{"type":"point","filled":true,"size":220,"fill":"#e040a0","opacity":1,"shape":"M0.2,-1 L-0.6,0.15 L-0.05,0.15 L-0.2,1 L0.6,-0.2 L0.05,-0.2 Z"}},
{"data":{"name":"dot"},"mark":{"type":"point","shape":"circle","filled":true,"size":45,"fill":"#f23645","opacity":1}}
]}
